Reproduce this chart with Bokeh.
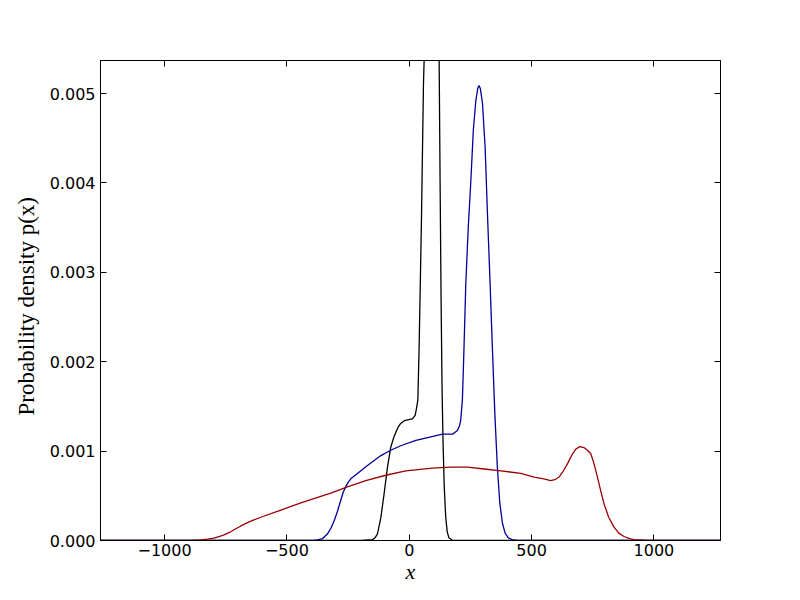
import math
from bokeh.plotting import figure
from bokeh.models import Range1d, LinearAxis, FixedTicker, NumeralTickFormatter, CustomJSTickFormatter
from bokeh.embed import file_html
from bokeh.resources import INLINE

# ---- data ----
black_x = [-1262, -400, -200, -150, -140, -130, -116, -103, -89, -76, -65, -55, -45, -35, -20, -7, 13, 24, 29,
           35, 40, 50, 58, 61, 66, 75, 85, 95, 105, 112, 117, 122, 126, 130, 134, 138, 143, 149, 155, 162, 175,
           200, 400, 1272]
black_y = [0, 0, 0, 0.00001, 0.00003, 0.000075, 0.00026, 0.00052, 0.00082, 0.00104, 0.00114, 0.00121,
           0.00127, 0.00131, 0.00134, 0.00135, 0.00136, 0.00140, 0.00147, 0.00157, 0.00213, 0.00362, 0.00511,
           0.0054, 0.0068, 0.0088, 0.0105, 0.0115, 0.0112, 0.0095, 0.0075, 0.0054, 0.0040, 0.0027, 0.0017,
           0.0011, 0.0006, 0.00026, 0.0001, 0.00003, 0.000005, 0, 0, 0]

blue_x = [-1262, -420, -390, -375, -355, -334, -320, -307, -293, -280, -270, -260, -250, -239, -212, -171,
          -116, -76, -35, 27, 88, 136, 177, 197, 205, 210, 217, 222, 231, 241, 251, 262, 272, 280, 285, 290,
          299, 310, 320, 330, 340, 350, 360, 370, 381, 392, 405, 420, 442, 1272]
blue_y = [0, 0, 0.000003, 0.000008, 0.00002, 0.000075, 0.00014, 0.00022, 0.00033, 0.00045, 0.00054, 0.00060,
          0.00065, 0.00069, 0.00075, 0.00084, 0.00095, 0.00101, 0.00106, 0.00112, 0.00116, 0.00119, 0.00119,
          0.00123, 0.00128, 0.00134, 0.00157, 0.0020, 0.00287, 0.0035, 0.00399, 0.0046, 0.00492, 0.00506,
          0.00509, 0.00506, 0.00490, 0.0044, 0.00362, 0.0029, 0.00213, 0.0014, 0.00082, 0.00042, 0.00019,
          0.00008, 0.00003, 0.00001, 0, 0]

red_x = [-1262, -934, -890, -852, -825, -798, -775, -757, -735, -716, -690, -661, -635, -607, -525, -443, -321,
         -253, -178, -96, -14, 95, 170, 238, 306, 374, 456, 510, 550, 578, 595, 612, 630, 647, 665, 680, 697,
         714, 728, 742, 755, 769, 783, 796, 815, 837, 857, 878, 900, 919, 960, 1028, 1272]
red_y = [0, 0, 0.000002, 0.000008, 0.000015, 0.000026, 0.000045, 0.000064, 0.00009, 0.00012, 0.00016,
         0.00020, 0.00023, 0.00026, 0.00034, 0.00042, 0.00053, 0.00060, 0.00067, 0.00073, 0.00078, 0.00081,
         0.00082, 0.00082, 0.00080, 0.00078, 0.00075, 0.00071, 0.00069, 0.00067, 0.00068, 0.00071, 0.00078,
         0.00086, 0.00096, 0.00102, 0.00105, 0.00104, 0.00101, 0.00097, 0.00086, 0.00071, 0.00055, 0.00041,
         0.00026, 0.00015, 0.00008, 0.000045, 0.00002, 0.00001, 0.000004, 0, 0]

x_ticks = [-1000, -500, 0, 500, 1000]
y_ticks = [0.0, 0.001, 0.002, 0.003, 0.004, 0.005]

XMIN, XMAX = -1262, 1272
YMIN, YMAX = 0.0, 0.00537

p = figure(frame_width=620, frame_height=480,
           x_range=Range1d(XMIN, XMAX), y_range=Range1d(YMIN, YMAX),
           output_backend="svg", toolbar_location=None,
           x_axis_location=None, y_axis_location=None)
p.min_border_left = 100
p.min_border_right = 80
p.min_border_top = 60
p.min_border_bottom = 60
p.xgrid.visible = False
p.ygrid.visible = False
p.outline_line_color = "black"
p.outline_line_width = 1
p.background_fill_color = "white"
p.border_fill_color = "white"

TICK_FONT = "DejaVu Sans"
SERIF = "Liberation Serif"

def style_axis(ax, standoff=4):
    ax.major_tick_in = 6
    ax.major_tick_out = 0
    ax.minor_tick_line_color = None
    ax.axis_line_color = "black"
    ax.major_tick_line_color = "black"
    ax.major_label_standoff = standoff
    ax.major_label_text_font = TICK_FONT
    ax.major_label_text_font_size = "16px"
    ax.major_label_text_color = "black"
    ax.axis_label_text_font = SERIF
    ax.axis_label_text_font_size = "22px"
    ax.axis_label_text_color = "black"

xfmt = CustomJSTickFormatter(code="return tick.toFixed(0).replace('-', '\u2212');")
yfmt = NumeralTickFormatter(format="0.000")
blank = CustomJSTickFormatter(code="return '';")

bottom = LinearAxis(ticker=FixedTicker(ticks=x_ticks), formatter=xfmt, axis_label="x")
style_axis(bottom, standoff=3)
bottom.axis_label_text_font_style = "italic"
bottom.axis_label_standoff = 0
p.add_layout(bottom, "below")

left = LinearAxis(ticker=FixedTicker(ticks=y_ticks), formatter=yfmt,
                  axis_label="Probability  density  p(x)")
style_axis(left, standoff=5)
left.axis_label_text_font_style = "normal"
left.axis_label_text_font_size = "23px"
left.axis_label_standoff = 8
p.add_layout(left, "left")

top = LinearAxis(ticker=FixedTicker(ticks=x_ticks), formatter=blank)
style_axis(top)
p.add_layout(top, "above")

right = LinearAxis(ticker=FixedTicker(ticks=y_ticks), formatter=blank)
style_axis(right)
p.add_layout(right, "right")

LW = 1.3
p.line(black_x, black_y, line_color="black", line_width=LW)
p.line(blue_x, blue_y, line_color="#000099", line_width=LW)
p.line(red_x, red_y, line_color="#990000", line_width=LW)

open("out.html", "w").write(file_html(p, INLINE))
